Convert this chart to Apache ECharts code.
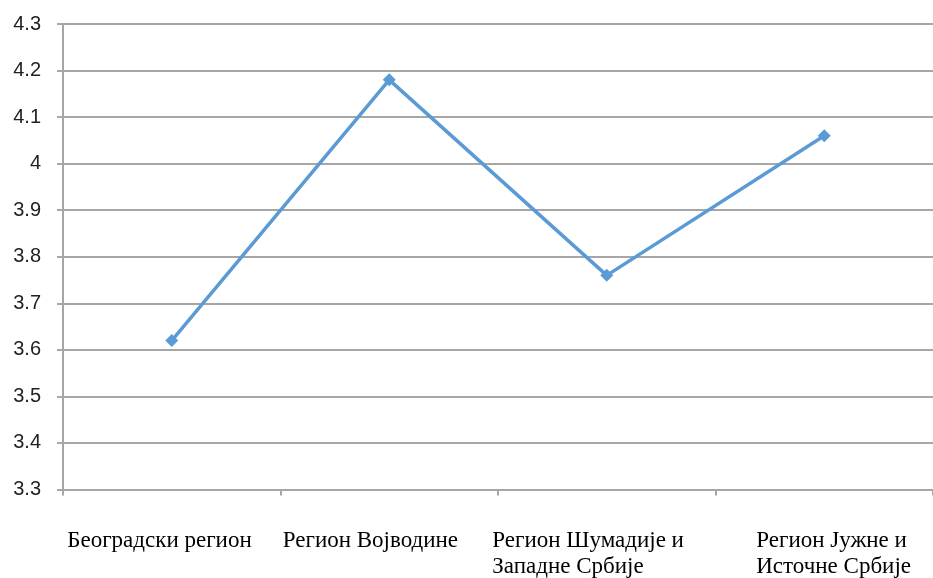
<!DOCTYPE html>
<html>
<head>
<meta charset="utf-8">
<script src="https://cdn.jsdelivr.net/npm/echarts@6/dist/echarts.min.js"></script>
<style>
  html, body { margin: 0; padding: 0; background: #ffffff; }
  #chart { width: 933px; height: 578px; }
</style>
</head>
<body>
<div id="chart"></div>
<script>
// Regions of Serbia and their average scores
var regions = [
  'Београдски регион',
  'Регион Војводине',
  'Регион Шумадије и\nЗападне Србије',
  'Регион Јужне и\nИсточне Србије'
];
var scores = [3.62, 4.18, 3.76, 4.06];
var yMin = 3.3;
var yMax = 4.3;
var yStep = 0.1;

// width of the left-aligned text box under each category (centred on the category)
var labelBoxWidth = [209, 213, 229, 136];

var rich = {};
labelBoxWidth.forEach(function (w, i) {
  rich['c' + i] = {
    width: w,
    align: 'left',
    color: '#000000',
    fontFamily: 'Liberation Serif',
    fontSize: 23,
    lineHeight: 26
  };
});

var chart = echarts.init(document.getElementById('chart'));
chart.setOption({
  backgroundColor: '#ffffff',
  animation: false,
  grid: { left: 63, right: -6, top: 24, bottom: 87 },
  xAxis: {
    type: 'category',
    boundaryGap: true,
    data: regions,
    axisLine: { show: true, lineStyle: { color: '#a6a6a6', width: 2 } },
    axisTick: { show: true, length: 6, lineStyle: { color: '#a6a6a6', width: 2 } },
    axisLabel: {
      interval: 0,
      margin: 38,
      align: 'center',
      rich: rich,
      formatter: function (value, index) {
        return value.split('\n').map(function (line) {
          return '{c' + index + '|' + line + '}';
        }).join('\n');
      }
    },
    splitLine: { show: false }
  },
  yAxis: {
    type: 'value',
    min: yMin,
    max: yMax,
    interval: yStep,
    axisLine: { show: true, lineStyle: { color: '#a6a6a6', width: 2 } },
    axisTick: { show: true, length: 6, lineStyle: { color: '#a6a6a6', width: 2 } },
    axisLabel: {
      margin: 22,
      color: '#222222',
      fontFamily: 'Liberation Sans',
      fontSize: 20,
      formatter: function (v) { return String(parseFloat(v.toFixed(1))); }
    },
    splitLine: { show: true, lineStyle: { color: '#a6a6a6', width: 2 } }
  },
  series: [{
    type: 'line',
    data: scores,
    symbol: 'diamond',
    symbolSize: 13,
    lineStyle: { color: '#5b9bd5', width: 3.5 },
    itemStyle: { color: '#5b9bd5' }
  }]
});
</script>
</body>
</html>
